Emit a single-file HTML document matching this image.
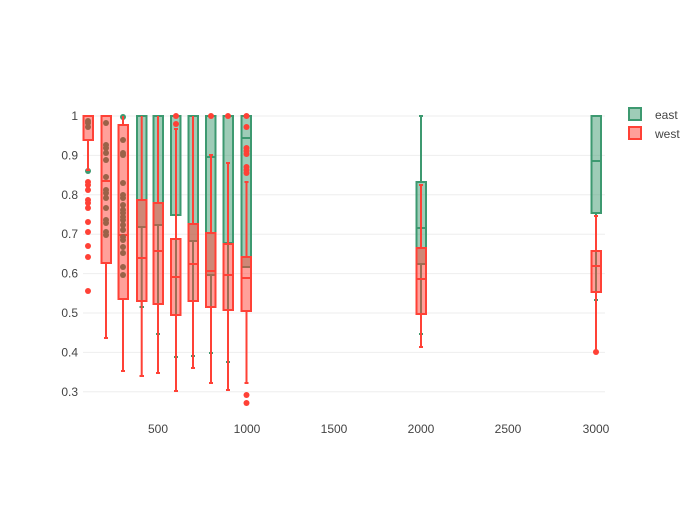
<!DOCTYPE html>
<html><head><meta charset="utf-8"><style>
body{margin:0;background:#fff;}
svg text{font-family:"Liberation Sans",sans-serif;font-size:12px;fill:#444;}
</style></head><body>
<svg width="700" height="500" viewBox="0 0 700 500">
<rect width="700" height="500" fill="#fff"/>
<g stroke="#eee" stroke-width="1">
<line x1="83" x2="605" y1="116" y2="116"/><line x1="83" x2="605" y1="155.4" y2="155.4"/>
<line x1="83" x2="605" y1="194.8" y2="194.8"/><line x1="83" x2="605" y1="234.2" y2="234.2"/>
<line x1="83" x2="605" y1="273.6" y2="273.6"/><line x1="83" x2="605" y1="313" y2="313"/>
<line x1="83" x2="605" y1="352.4" y2="352.4"/><line x1="83" x2="605" y1="391.8" y2="391.8"/>
</g>
<g text-anchor="end">
<text x="78" y="120">1</text><text x="78" y="159.4">0.9</text><text x="78" y="198.8">0.8</text>
<text x="78" y="238.2">0.7</text><text x="78" y="277.6">0.6</text><text x="78" y="317">0.5</text>
<text x="78" y="356.4">0.4</text><text x="78" y="395.8">0.3</text>
</g>
<g text-anchor="middle">
<text x="158" y="433">500</text><text x="247" y="433">1000</text><text x="334" y="433">1500</text>
<text x="421" y="433">2000</text><text x="508" y="433">2500</text><text x="596" y="433">3000</text>
</g>
<!-- east -->
<g stroke="#3D9970" stroke-width="2" fill="rgba(61,153,112,0.5)">
<rect x="137" y="116" width="9.5" height="111"/><line x1="137" x2="146.5" y1="116" y2="116"/><line x1="141.7" x2="141.7" y1="227" y2="307"/><line x1="139.5" x2="144" y1="307" y2="307"/>
<rect x="153.5" y="116" width="9.5" height="109"/><line x1="158" x2="158" y1="225" y2="334"/><line x1="156" x2="160" y1="334" y2="334"/>
<rect x="171" y="116" width="9.5" height="99"/><line x1="176" x2="176" y1="215" y2="357"/><line x1="174" x2="178" y1="357" y2="357"/>
<rect x="188.5" y="116" width="9.5" height="125"/><line x1="193" x2="193" y1="241" y2="356"/><line x1="191" x2="195" y1="356" y2="356"/>
<rect x="206" y="116" width="9.5" height="159"/><line x1="206" x2="215.5" y1="157" y2="157"/><line x1="211" x2="211" y1="275" y2="353"/><line x1="209" x2="213" y1="353" y2="353"/>
<rect x="223.5" y="116" width="9.5" height="127"/><line x1="228" x2="228" y1="243" y2="362"/><line x1="226" x2="230" y1="362" y2="362"/>
<rect x="241.5" y="116" width="9.5" height="151"/><line x1="241.5" x2="251" y1="138" y2="138"/>
<rect x="416.5" y="182" width="9.5" height="82"/><line x1="416.5" x2="426" y1="228" y2="228"/><line x1="421" x2="421" y1="116" y2="182"/><line x1="419" x2="423" y1="116" y2="116"/><line x1="421" x2="421" y1="264" y2="334"/><line x1="419" x2="423" y1="334" y2="334"/>
<rect x="591.5" y="116" width="9.5" height="97"/><line x1="591.5" x2="601" y1="161" y2="161"/><line x1="596" x2="596" y1="213" y2="300"/><line x1="594" x2="598" y1="300" y2="300"/>
<line x1="121" x2="125" y1="116" y2="116"/>
</g>
<circle cx="88" cy="171" r="3" fill="#3D9970"/>
<circle cx="123" cy="117" r="3" fill="#3D9970"/>
<!-- west -->
<g stroke="#FF4136" stroke-width="2" fill="rgba(255,65,54,0.5)">
<rect x="83.5" y="116" width="9.5" height="24"/><line x1="88" x2="88" y1="140" y2="170"/><line x1="86" x2="90" y1="170" y2="170"/>
<rect x="101.5" y="116" width="9.5" height="147"/><line x1="101.5" x2="111" y1="181" y2="181"/><line x1="106" x2="106" y1="263" y2="338"/><line x1="104" x2="108" y1="338" y2="338"/>
<rect x="118.5" y="125" width="9.5" height="174"/><line x1="118.5" x2="128" y1="235" y2="235"/><line x1="123" x2="123" y1="116" y2="125"/><line x1="123" x2="123" y1="299" y2="371"/><line x1="121" x2="125" y1="371" y2="371"/>
<rect x="137" y="200" width="9.5" height="101"/><line x1="137" x2="146.5" y1="258" y2="258"/><line x1="141.7" x2="141.7" y1="116" y2="200"/><line x1="141.7" x2="141.7" y1="301" y2="376"/><line x1="139.5" x2="144" y1="376" y2="376"/>
<rect x="153.5" y="203" width="9.5" height="101"/><line x1="153.5" x2="163" y1="251" y2="251"/><line x1="158" x2="158" y1="116" y2="203"/><line x1="158" x2="158" y1="304" y2="373"/><line x1="156" x2="160" y1="373" y2="373"/>
<rect x="171" y="239" width="9.5" height="76"/><line x1="171" x2="180.5" y1="277" y2="277"/><line x1="176" x2="176" y1="129" y2="239"/><line x1="174" x2="178" y1="129" y2="129"/><line x1="176" x2="176" y1="315" y2="391"/><line x1="174" x2="178" y1="391" y2="391"/>
<rect x="188.5" y="224" width="9.5" height="77"/><line x1="188.5" x2="198" y1="264" y2="264"/><line x1="193" x2="193" y1="116" y2="224"/><line x1="193" x2="193" y1="301" y2="368"/><line x1="191" x2="195" y1="368" y2="368"/>
<rect x="206" y="233" width="9.5" height="74"/><line x1="206" x2="215.5" y1="271" y2="271"/><line x1="211" x2="211" y1="155" y2="233"/><line x1="209" x2="213" y1="155" y2="155"/><line x1="211" x2="211" y1="307" y2="383"/><line x1="209" x2="213" y1="383" y2="383"/>
<rect x="223.5" y="244" width="9.5" height="66"/><line x1="223.5" x2="233" y1="275" y2="275"/><line x1="228" x2="228" y1="163" y2="244"/><line x1="226" x2="230" y1="163" y2="163"/><line x1="228" x2="228" y1="310" y2="390"/><line x1="226" x2="230" y1="390" y2="390"/>
<rect x="241.5" y="257" width="9.5" height="54"/><line x1="241.5" x2="251" y1="278" y2="278"/><line x1="246.5" x2="246.5" y1="182" y2="257"/><line x1="244.5" x2="248.5" y1="182" y2="182"/><line x1="246.5" x2="246.5" y1="311" y2="383"/><line x1="244.5" x2="248.5" y1="383" y2="383"/>
<rect x="416.5" y="248" width="9.5" height="66"/><line x1="416.5" x2="426" y1="279" y2="279"/><line x1="421" x2="421" y1="185" y2="248"/><line x1="419" x2="423" y1="185" y2="185"/><line x1="421" x2="421" y1="314" y2="347"/><line x1="419" x2="423" y1="347" y2="347"/>
<rect x="591.5" y="251" width="9.5" height="41"/><line x1="591.5" x2="601" y1="266" y2="266"/><line x1="596" x2="596" y1="216" y2="251"/><line x1="594" x2="598" y1="216" y2="216"/><line x1="596" x2="596" y1="292" y2="352"/>
</g>
<g fill="#FF4136">
<circle cx="88" cy="182" r="3"/><circle cx="88" cy="185" r="3"/><circle cx="88" cy="190" r="3"/><circle cx="88" cy="200" r="3"/><circle cx="88" cy="203" r="3"/><circle cx="88" cy="208" r="3"/><circle cx="88" cy="222" r="3"/><circle cx="88" cy="232" r="3"/><circle cx="88" cy="246" r="3"/><circle cx="88" cy="257" r="3"/><circle cx="88" cy="291" r="3"/>
<circle cx="176" cy="116" r="3"/><circle cx="176" cy="124" r="3"/><circle cx="211" cy="116" r="3"/><circle cx="228" cy="116" r="3"/>
<circle cx="246.5" cy="116" r="3"/><circle cx="246.5" cy="127" r="3"/><circle cx="246.5" cy="148" r="3"/><circle cx="246.5" cy="151" r="3"/><circle cx="246.5" cy="154" r="3"/><circle cx="246.5" cy="167" r="3"/><circle cx="246.5" cy="170" r="3"/><circle cx="246.5" cy="173" r="3"/><circle cx="246.5" cy="395" r="3"/><circle cx="246.5" cy="403" r="3"/>
<circle cx="596" cy="352" r="3"/>
</g>
<g fill="#9a6248">
<circle cx="88" cy="121" r="3"/><circle cx="88" cy="123" r="3"/><circle cx="88" cy="127" r="3"/>
<circle cx="106" cy="123" r="3"/><circle cx="106" cy="145" r="3"/><circle cx="106" cy="148" r="3"/><circle cx="106" cy="153" r="3"/><circle cx="106" cy="160" r="3"/><circle cx="106" cy="177" r="3"/><circle cx="106" cy="190" r="3"/><circle cx="106" cy="193" r="3"/><circle cx="106" cy="198" r="3"/><circle cx="106" cy="208" r="3"/><circle cx="106" cy="220" r="3"/><circle cx="106" cy="223" r="3"/><circle cx="106" cy="232" r="3"/><circle cx="106" cy="235" r="3"/>
<circle cx="123" cy="140" r="3"/><circle cx="123" cy="153" r="3"/><circle cx="123" cy="155" r="3"/><circle cx="123" cy="183" r="3"/><circle cx="123" cy="195" r="3"/><circle cx="123" cy="198" r="3"/><circle cx="123" cy="205" r="3"/><circle cx="123" cy="210" r="3"/><circle cx="123" cy="213" r="3"/><circle cx="123" cy="217" r="3"/><circle cx="123" cy="220" r="3"/><circle cx="123" cy="225" r="3"/><circle cx="123" cy="230" r="3"/><circle cx="123" cy="237" r="3"/><circle cx="123" cy="240" r="3"/><circle cx="123" cy="247" r="3"/><circle cx="123" cy="253" r="3"/><circle cx="123" cy="267" r="3"/><circle cx="123" cy="275" r="3"/>
</g>
<!-- legend -->
<rect x="629" y="108" width="12" height="12" fill="rgba(61,153,112,0.5)" stroke="#3D9970" stroke-width="2"/>
<text x="655" y="119">east</text>
<rect x="629" y="127" width="12" height="12" fill="rgba(255,65,54,0.5)" stroke="#FF4136" stroke-width="2"/>
<text x="655" y="138">west</text>
</svg>
</body></html>
